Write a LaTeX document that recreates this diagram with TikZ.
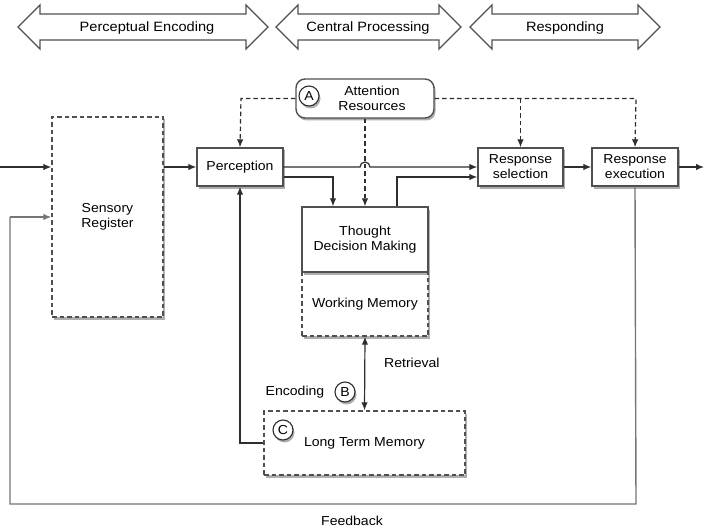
\documentclass[tikz,border=0pt]{standalone}
\usepackage{fontspec}
\setmainfont{Liberation Sans}[FakeStretch=1.08]
\usetikzlibrary{arrows.meta,shadows,calc}
\definecolor{linec}{HTML}{2E2E2E}
\definecolor{boxc}{HTML}{505050}
\definecolor{fbc}{HTML}{7A7472}
\begin{document}
\begin{tikzpicture}[x=1pt,y=-1pt,
  font=\fontsize{13}{15}\selectfont,
  shad/.style={drop shadow={shadow xshift=1.5pt,shadow yshift=-2.5pt,opacity=0.45,fill=black!70}},
  solidbox/.style={draw=boxc,line width=1.4pt,fill=white,shad,align=center,inner sep=0pt},
  dashbox/.style={draw=boxc,line width=1.4pt,fill=white,shad,align=center,inner sep=0pt,dash pattern=on 4.5pt off 3pt},
  arr/.style={draw=linec,line width=1.2pt,-{Latex[length=8pt,width=6.5pt]}},
  darr/.style={arr,dash pattern=on 4.5pt off 3pt},
  fb/.style={draw=fbc,line width=1.4pt},
  circ/.style={circle,draw=linec,line width=1.1pt,fill=white,minimum size=20pt,inner sep=0pt,shad},
  bigarrow/.style={draw=boxc,line width=1.3pt,fill=white},
  lbl/.style={align=center,inner sep=0pt},
  toplbl/.style={lbl,font=\fontsize{13.5}{15}\selectfont}
]
\useasboundingbox[fill=white] (0,0) rectangle (704,532);

% top phase arrows
\foreach \xa/\xb in {18/268, 276/461, 470/660}{
  \draw[bigarrow] (\xa,27) -- (\xa+22,5) -- (\xa+22,14) -- (\xb-22,14) -- (\xb-22,5) -- (\xb,27)
     -- (\xb-22,49) -- (\xb-22,40) -- (\xa+22,40) -- (\xa+22,49) -- cycle;
}
\node[toplbl] (pe) at (147,28) {Perceptual Encoding};
\node[toplbl] (cp) at (368,28) {Central Processing};
\node[toplbl] (rp) at (565,28) {Responding};

% boxes
\node[dashbox,minimum width=111pt,minimum height=200pt] (sens) at (107.5,217) {Sensory\\Register};
\node[solidbox,minimum width=86pt,minimum height=38pt] (perc) at (240,167) {Perception};
\node[solidbox,minimum width=85pt,minimum height=38pt] (rsel) at (520.5,167) {Response\\selection};
\node[solidbox,minimum width=86pt,minimum height=38pt] (rexe) at (635,167) {Response\\execution};
\node[solidbox,rounded corners=9pt,minimum width=138pt,minimum height=39pt] (att) at (365,98.5) {\hspace*{14pt}Attention\\\hspace*{14pt}Resources};
\node[circ] (ca) at (309,96) {A};

\node[dashbox,minimum width=126pt,minimum height=64pt] (wm) at (365,304) {Working Memory};
\node[solidbox,minimum width=126pt,minimum height=65pt,drop shadow={opacity=0}] (tdm) at (365,239.5) {Thought\\Decision Making};
\node[dashbox,minimum width=201pt,minimum height=64pt] (ltm) at (364.5,443) {Long Term Memory};
\node[circ] (cc) at (283,430) {C};

\node[lbl] (enc) at (295,392) {Encoding};
\node[circ] (cb) at (345,392) {B};
\node[lbl,anchor=west] (ret) at (384,363) {Retrieval};
\node[lbl] (fbl) at (352,521) {Feedback};

% coordinates
\coordinate (in) at (0,167);
\coordinate (out) at (704,167);
\coordinate (fbr) at (636,504);
\coordinate (fbl2) at (10,504);
\coordinate (fbu) at (10,217);
\coordinate (p2) at (333,177);
\coordinate (t2) at (397,177);
\coordinate (ltmj) at (240,443);
\coordinate (attl) at (241,98.5);
\coordinate (attr) at (636,98.5);
\coordinate (attm) at (520.5,98.5);

% solid connectors
\draw[arr] (in) -- (sens.west |- in);
\draw[arr] (sens.east |- perc.west) -- (perc.west);
\draw[arr] (perc.east) -- ([xshift=-5pt]att.south |- perc.east) arc[start angle=180,end angle=0,radius=5pt] -- (rsel.west);
\draw[arr] (perc.east |- p2) -- (p2) -- (p2 |- tdm.north);
\draw[arr] (t2 |- tdm.north) -- (t2) -- (rsel.west |- t2);
\draw[arr] (rsel.east) -- (rexe.west);
\draw[arr] (rexe.east) -- (out);
\draw[arr] (ltm.west |- ltmj) -- (ltmj) -- (perc.south);
\draw[draw=linec,line width=1.2pt,{Latex[length=8pt,width=6.5pt]}-{Latex[length=8pt,width=6.5pt]}] (wm.south) -- (ltm.north);

% feedback
\draw[fb] (rexe.south) -- (fbr) -- (fbl2) -- (fbu);
\draw[arr,draw=fbc,line width=1.4pt] (fbu) -- (sens.west |- fbu);

% dashed attention connectors
\draw[darr] (att.south) -- (tdm.north);
\draw[darr] (att.west) -- (attl) -- (perc.north);
\draw[darr] (att.east) -- (attr) -- (rexe.north);
\draw[darr] (attm) -- (rsel.north);
\end{tikzpicture}
\end{document}
